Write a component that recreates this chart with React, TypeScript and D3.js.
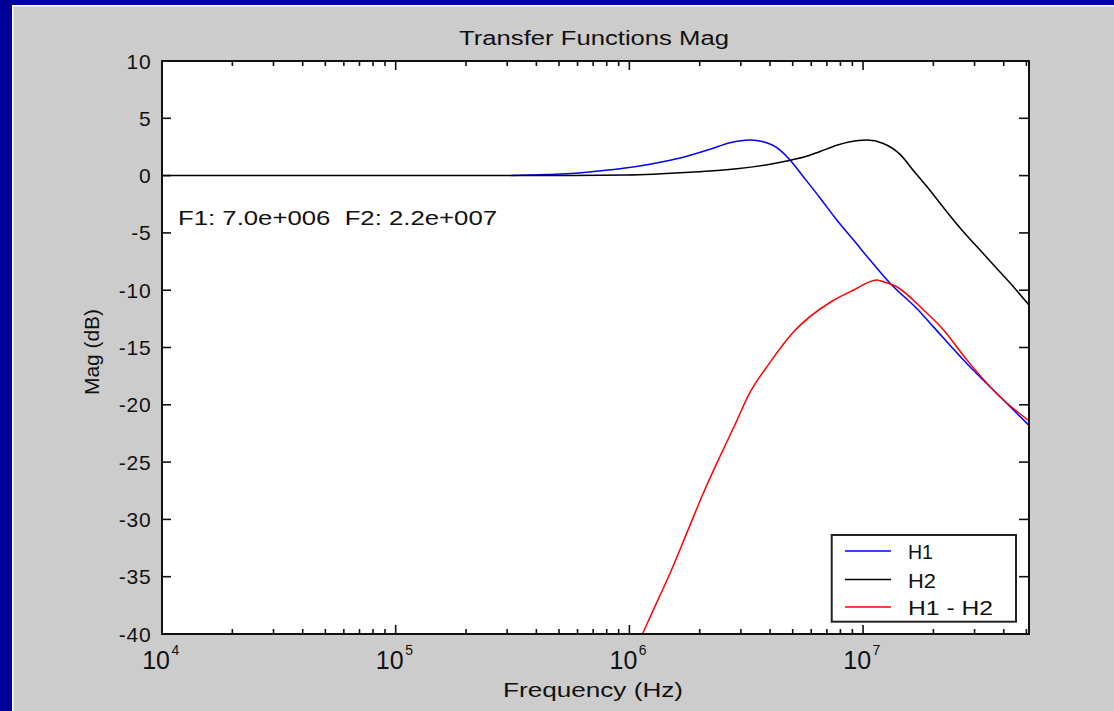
import React from 'react';
import * as d3 from 'd3';

// ---- data ----
const Y_TICKS = [10, 5, 0, -5, -10, -15, -20, -25, -30, -35, -40];
const X_MAJOR = [1e4, 1e5, 1e6, 1e7];
const X_EXP = ['4', '5', '6', '7'];

const H1_FREQ = [3.12e5, 4.5e5, 5.86e5, 7.62e5, 9.42e5, 1.226e6, 1.702e6, 2.214e6, 2.697e6, 3.284e6, 3.745e6, 4.414e6, 4.87e6, 5.553e6, 6.546e6, 7.719e6, 9.09e6, 1.071e7, 1.305e7, 1.698e7, 2.0e7, 2.779e7, 3.858e7, 5.13e7];
const H1_MAG = [0, 0.1, 0.2, 0.43, 0.64, 1.0, 1.6, 2.3, 2.87, 3.1, 2.95, 2.23, 1.36, -0.1, -1.95, -3.87, -5.6, -7.37, -9.4, -11.6, -13.2, -16.4, -19.3, -21.8];

const H2_FREQ = [1e4, 5e5, 9.74e5, 1.818e6, 2.3e6, 2.88e6, 4.0e6, 4.775e6, 5.536e6, 6.546e6, 7.719e6, 8.798e6, 1.037e7, 1.221e7, 1.44e7, 1.641e7, 1.935e7, 2.281e7, 2.687e7, 3.168e7, 3.735e7, 4.4e7, 5.13e7];
const H2_MAG = [0, 0, 0.05, 0.29, 0.42, 0.6, 1.0, 1.3, 1.6, 2.1, 2.65, 2.96, 3.1, 2.8, 1.85, 0.45, -1.3, -3.15, -4.9, -6.5, -8.1, -9.7, -11.3];

const DIFF_FREQ = [1.0e6, 1.137e6, 1.266e6, 1.493e6, 1.76e6, 2.073e6, 2.443e6, 2.88e6, 3.228e6, 4.0e6, 5.012e6, 7.447e6, 9.078e6, 1.145e7, 1.182e7, 1.393e7, 1.811e7, 2.173e7, 2.786e7, 3.855e7, 5.13e7];
const DIFF_MAG = [-42.5, -40, -37.9, -34.7, -31.2, -27.7, -24.5, -21.4, -19.2, -16.3, -13.7, -10.9, -10.0, -9.1, -9.17, -9.7, -11.7, -13.3, -16.1, -19.3, -21.4];

const SERIES_NAMES = ['H1', 'H2', 'H1 - H2'];
const SERIES_COLORS = ['#0000ff', '#000000', '#ff0000'];
const TITLE = 'Transfer Functions Mag';
const X_LABEL = 'Frequency (Hz)';
const Y_LABEL = 'Mag (dB)';
const NOTE = 'F1: 7.0e+006  F2: 2.2e+007';

const W = 1114;
const H = 711;
const L = 162, R = 1029, T = 61, B = 634;
const FONT = '"Liberation Sans", Arial, sans-serif';

export default function App() {
  const x = d3.scaleLog().domain([1e4, 5.13e7]).range([L, R]);
  const y = d3.scaleLinear().domain([-40, 10]).range([B, T]);

  const minor: number[] = [];
  for (let e = 4; e <= 7; e++) {
    for (let m = 2; m <= 9; m++) {
      const v = m * Math.pow(10, e);
      if (v < 5.13e7 * 0.99) minor.push(v);
    }
  }

  const line = d3
    .line<[number, number]>()
    .x((d) => x(d[0]))
    .y((d) => y(d[1]))
    .curve(d3.curveMonotoneX);

  const series = [
    H1_FREQ.map((f, i) => [f, H1_MAG[i]] as [number, number]),
    H2_FREQ.map((f, i) => [f, H2_MAG[i]] as [number, number]),
    DIFF_FREQ.map((f, i) => [f, DIFF_MAG[i]] as [number, number]),
  ];

  const legX = 831.7, legY = 535, legW = 184.3, legH = 86.7;
  const legRows = [551, 579.5, 607];
  const legTextW = [25, 28, 85];

  return (
    <svg width={W} height={H} style={{ position: 'fixed', left: 0, top: 0 }} fontFamily={FONT}>
      <defs>
        <clipPath id="plotclip">
          <rect x={L} y={T} width={R - L} height={B - T} />
        </clipPath>
      </defs>
      <rect x={0} y={0} width={W} height={H} fill="#000099" />
      <rect x={12} y={5} width={W - 12} height={H - 5} fill="#ffffff" />
      <rect x={13.5} y={6.5} width={W - 13.5} height={H - 6.5} fill="#cccccc" />

      <rect x={L} y={T} width={R - L} height={B - T} fill="#ffffff" />

      {/* y ticks */}
      {Y_TICKS.map((v) => (
        <g key={'y' + v}>
          <line x1={L} x2={L + 9} y1={y(v)} y2={y(v)} stroke="#111" strokeWidth={1.6} />
          <line x1={R - 10} x2={R} y1={y(v)} y2={y(v)} stroke="#111" strokeWidth={1.6} />
          <text x={151.5} y={y(v) + 7.5} textAnchor="end" fontSize={21} letterSpacing={0.8} fill="#111">
            {v}
          </text>
        </g>
      ))}

      {/* x ticks */}
      {minor.map((v) => (
        <g key={'m' + v}>
          <line x1={x(v)} x2={x(v)} y1={B} y2={B - 5} stroke="#111" strokeWidth={1.6} />
          <line x1={x(v)} x2={x(v)} y1={T} y2={T + 5} stroke="#111" strokeWidth={1.6} />
        </g>
      ))}
      {X_MAJOR.map((v, i) => (
        <g key={'M' + v}>
          <line x1={x(v)} x2={x(v)} y1={B} y2={B - 9} stroke="#111" strokeWidth={1.6} />
          <line x1={x(v)} x2={x(v)} y1={T} y2={T + 9} stroke="#111" strokeWidth={1.6} />
          <text x={x(v) + 8} y={669} textAnchor="end" fontSize={25} fill="#111">
            10
          </text>
          <text x={x(v) + 9.5} y={655} fontSize={14} fill="#111">
            {X_EXP[i]}
          </text>
        </g>
      ))}

      {/* curves */}
      <g clipPath="url(#plotclip)">
        {series.map((s, i) => (
          <path key={i} d={line(s) || ''} fill="none" stroke={SERIES_COLORS[i]} strokeWidth={1.5} />
        ))}
      </g>

      {/* axes box */}
      <rect x={L} y={T} width={R - L} height={B - T} fill="none" stroke="#111" strokeWidth={2} />

      {/* annotation */}
      <text x={178} y={225} fontSize={20} fill="#111" textLength={319} lengthAdjust="spacingAndGlyphs" style={{ whiteSpace: 'pre' }}>
        {NOTE}
      </text>

      {/* legend */}
      <rect x={legX} y={legY} width={legW} height={legH} fill="#ffffff" stroke="#222" strokeWidth={2} />
      {SERIES_NAMES.map((n, i) => (
        <g key={n}>
          <line x1={845} x2={891} y1={legRows[i]} y2={legRows[i]} stroke={SERIES_COLORS[i]} strokeWidth={1.5} />
          <text x={908} y={legRows[i] + 8} fontSize={20} fill="#111" textLength={legTextW[i]} lengthAdjust="spacingAndGlyphs" style={{ whiteSpace: 'pre' }}>
            {n}
          </text>
        </g>
      ))}

      {/* titles */}
      <text x={594} y={45} textAnchor="middle" fontSize={20} fill="#111" textLength={270} lengthAdjust="spacingAndGlyphs">
        {TITLE}
      </text>
      <text x={593} y={697} textAnchor="middle" fontSize={20} fill="#111" textLength={180} lengthAdjust="spacingAndGlyphs">
        {X_LABEL}
      </text>
      <text transform="translate(99,352) rotate(-90)" textAnchor="middle" fontSize={20} fill="#111" textLength={86} lengthAdjust="spacingAndGlyphs">
        {Y_LABEL}
      </text>
    </svg>
  );
}
